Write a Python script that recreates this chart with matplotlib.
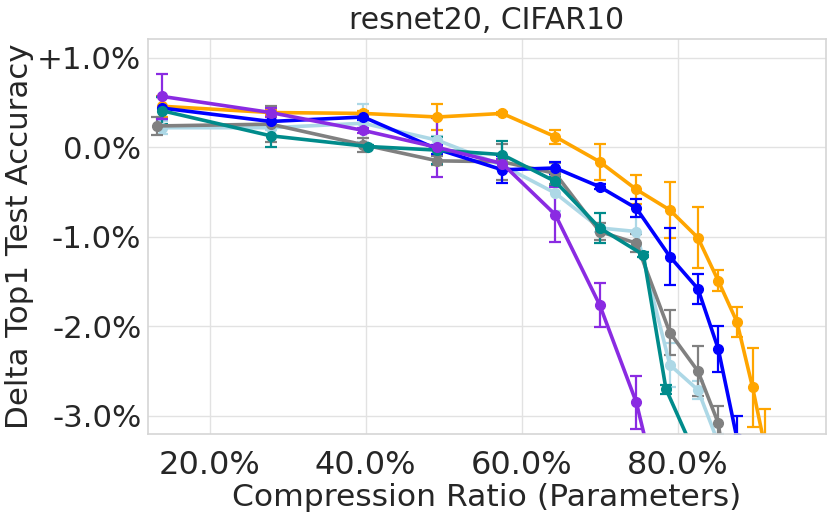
import numpy as np
import matplotlib
matplotlib.use("Agg")
import matplotlib.pyplot as plt
from matplotlib.ticker import FuncFormatter

# compression ratio (%) at each pruning step
x_steps = [13.9, 27.8, 39.7, 49.2, 57.5, 64.3, 70.0, 74.7, 79.0, 82.6, 85.2, 87.6, 89.6, 91.2]

orange_y = [0.46, 0.39, 0.38, 0.34, 0.38, 0.12, -0.16, -0.47, -0.70, -1.01, -1.49, -1.95, -2.68, -3.35]
orange_e = [0.12, 0.03, 0.03, 0.14, 0.02, 0.08, 0.20, 0.16, 0.31, 0.34, 0.12, 0.17, 0.44, 0.43]

blue_y = [0.44, 0.29, 0.34, -0.02, -0.25, -0.23, -0.44, -0.68, -1.22, -1.58, -2.25, -3.25, -4.50]
blue_e = [0.12, 0.05, 0.03, 0.05, 0.15, 0.07, 0.03, 0.10, 0.32, 0.17, 0.26, 0.25, 0.30]

purple_y = [0.57, 0.39, 0.19, 0.00, -0.18, -0.75, -1.76, -2.85, -4.40]
purple_e = [0.25, 0.05, 0.03, 0.33, 0.05, 0.31, 0.25, 0.30, 0.30]

lightblue_y = [0.22, 0.22, 0.27, 0.08, -0.20, -0.51, -0.90, -0.94, -2.43, -2.71, -3.30]
lightblue_e = [0.07, 0.03, 0.21, 0.05, 0.05, 0.20, 0.05, 0.16, 0.25, 0.10, 0.10]

gray_x = [13.3] + x_steps[1:12]
gray_y = [0.24, 0.26, 0.03, -0.15, -0.16, -0.29, -0.94, -1.07, -2.07, -2.50, -3.08, -4.50]
gray_e = [0.10, 0.20, 0.08, 0.05, 0.20, 0.12, 0.10, 0.10, 0.25, 0.28, 0.19, 0.20]

teal_x = [13.9, 27.8, 40.3, 49.2, 57.5, 64.3, 70.0, 75.6, 78.5, 82.6]
teal_y = [0.41, 0.13, 0.01, -0.03, -0.08, -0.38, -0.90, -1.20, -2.70, -3.50]
teal_e = [0.15, 0.13, 0.02, 0.15, 0.15, 0.05, 0.17, 0.03, 0.05, 0.10]

plt.rcParams['font.family'] = ['DejaVu Sans']
plt.rcParams['text.color'] = '#262626'
plt.rcParams['axes.labelcolor'] = '#262626'
plt.rcParams['xtick.color'] = '#262626'
plt.rcParams['ytick.color'] = '#262626'

fig, ax = plt.subplots(figsize=(8.3, 5.22), dpi=100)
fig.subplots_adjust(left=0.178, right=0.995, top=0.925, bottom=0.169)

series = [
    (x_steps, orange_y, orange_e, '#FFA500'),
    (x_steps[:len(lightblue_y)], lightblue_y, lightblue_e, '#ADD8E6'),
    (gray_x, gray_y, gray_e, '#808080'),
    (x_steps[:len(blue_y)], blue_y, blue_e, '#0000FF'),
    (teal_x, teal_y, teal_e, '#008B8B'),
    (x_steps[:len(purple_y)], purple_y, purple_e, '#8A2BE2'),
]
for xs, ys, es, c in series:
    ax.errorbar(xs, ys, yerr=es, fmt='-o', color=c, lw=2.6, ms=7,
                capsize=4, elinewidth=1.6, capthick=1.6)

ax.set_xlim(12.05, 99.0)
ax.set_ylim(-3.2, 1.21)
ax.set_xticks([20, 40, 60, 80])
ax.set_yticks([-3, -2, -1, 0, 1])

def pct_y(v, pos):
    if v > 0:
        return '+%.1f%%' % v
    if v == 0:
        return '0.0%'
    return '-%.1f%%' % abs(v)

ax.xaxis.set_major_formatter(FuncFormatter(lambda v, p: '%.1f%%' % v))
ax.yaxis.set_major_formatter(FuncFormatter(pct_y))
ax.tick_params(axis='x', length=0, labelsize=23, pad=12)
ax.tick_params(axis='y', length=0, labelsize=22.2, pad=4.5)

ax.grid(True, color='#e2e2e2', lw=1.0)
ax.set_axisbelow(True)
for s in ax.spines.values():
    s.set_color('#d5d5d5')
    s.set_linewidth(1.2)

ax.set_title('resnet20, CIFAR10', fontsize=21.5, pad=7)
ax.set_xlabel('Compression Ratio (Parameters)', fontsize=22.6, labelpad=1)
ax.set_ylabel('Delta Top1 Test Accuracy', fontsize=22.2, labelpad=2)

fig.savefig('out.png', dpi=100)
